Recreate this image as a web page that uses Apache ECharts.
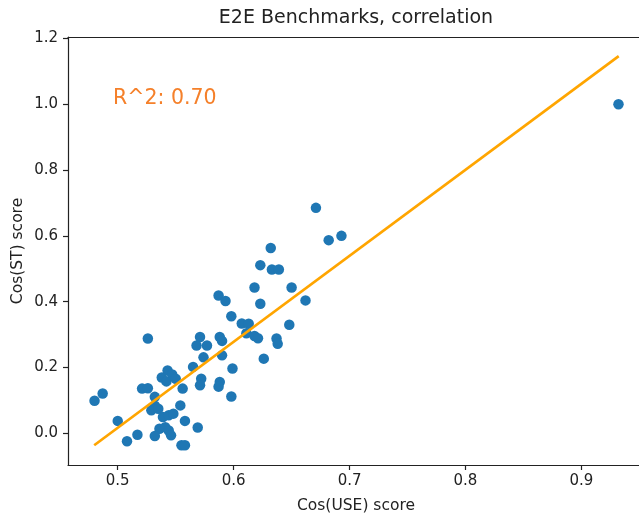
<!DOCTYPE html>
<html>
<head>
<meta charset="utf-8">
<script src="https://cdn.jsdelivr.net/npm/echarts@6/dist/echarts.min.js"></script>
<style>
html,body{margin:0;padding:0;background:#fff;}
#chart{width:639px;height:514px;}
</style>
</head>
<body>
<div id="chart"></div>
<script>
// Data
const useScores = [0.480,0.487,0.500,0.508,0.517,0.526,0.521,0.526,0.532,0.538,0.543,0.547,0.542,0.550,
  0.532,0.529,0.535,0.539,0.544,0.548,0.554,0.558,0.536,0.541,0.544,0.532,0.546,0.569,0.555,0.558,
  0.556,0.565,0.574,0.571,0.568,0.577,0.572,0.571,0.588,0.590,0.590,0.588,0.587,0.598,0.599,0.587,
  0.593,0.598,0.607,0.613,0.611,0.618,0.621,0.626,0.637,0.638,0.648,0.618,0.623,0.623,0.632,0.633,
  0.639,0.650,0.662,0.671,0.682,0.693,0.932];
const stScores = [0.099,0.121,0.038,-0.024,-0.004,0.288,0.136,0.137,0.111,0.170,0.191,0.179,0.158,0.166,
  0.084,0.070,0.075,0.050,0.055,0.060,0.085,0.038,0.014,0.019,0.009,-0.008,-0.006,0.018,-0.036,-0.036,
  0.136,0.202,0.231,0.293,0.267,0.267,0.166,0.146,0.293,0.281,0.237,0.156,0.142,0.112,0.197,0.419,
  0.402,0.356,0.334,0.333,0.304,0.296,0.289,0.227,0.288,0.272,0.330,0.443,0.394,0.511,0.563,0.498,
  0.498,0.443,0.404,0.685,0.587,0.600,1.000];
const fitX = [0.4797, 0.9322];
const fitY = [-0.036, 1.146];
const xTicks = [0.5, 0.6, 0.7, 0.8, 0.9];
const yTicks = [0.0, 0.2, 0.4, 0.6, 0.8, 1.0, 1.2];
const titleText = 'E2E Benchmarks, correlation';
const xName = 'Cos(USE) score';
const yName = 'Cos(ST) score';
const annotation = 'R^2: 0.70';

const FONT = 'DejaVu Sans';
const chart = echarts.init(document.getElementById('chart'), null, {renderer: 'canvas'});
const pts = useScores.map((x, i) => [x, stScores[i]]);
const fit = fitX.map((x, i) => [x, fitY[i]]);
const axisLineStyle = {color: '#222', width: 1.2};
const X_MIN = 0.4571, X_MAX = 0.9497;

chart.setOption({
  animation: false,
  backgroundColor: '#fff',
  grid: {left: 68, top: 37, right: 0, height: 428, containLabel: false},
  xAxis: [{
    type: 'value', position: 'bottom', min: X_MIN, max: X_MAX,
    axisLine: {show: true, onZero: false, lineStyle: axisLineStyle},
    axisTick: {show: true, length: 5, lineStyle: axisLineStyle, customValues: xTicks},
    axisLabel: {customValues: xTicks, margin: 9, color: '#222', fontFamily: FONT, fontSize: 15,
      formatter: v => v.toFixed(1)},
    splitLine: {show: false}
  }, {
    type: 'value', position: 'top', min: X_MIN, max: X_MAX,
    axisLine: {show: true, onZero: false, lineStyle: axisLineStyle},
    axisTick: {show: false}, axisLabel: {show: false}, splitLine: {show: false}
  }],
  yAxis: {
    type: 'value', min: -0.096, max: 1.204,
    axisLine: {show: true, onZero: false, lineStyle: axisLineStyle},
    axisTick: {show: true, length: 5, lineStyle: axisLineStyle, customValues: yTicks},
    axisLabel: {customValues: yTicks, margin: 10, color: '#222', fontFamily: FONT, fontSize: 15,
      formatter: v => v.toFixed(1)},
    splitLine: {show: false}
  },
  series: [{
    type: 'scatter', data: pts, symbol: 'circle', symbolSize: 10.5,
    itemStyle: {color: '#1f77b4', opacity: 1}, z: 2
  }, {
    type: 'line', data: fit, symbol: 'none', lineStyle: {color: '#ffa500', width: 2.7}, z: 3
  }],
  graphic: [{
    type: 'text', x: 356, y: 18,
    style: {text: titleText, font: '19px "DejaVu Sans"', fill: '#222', align: 'center', verticalAlign: 'middle'}
  }, {
    type: 'text', x: 356, y: 506,
    style: {text: xName, font: '15.5px "DejaVu Sans"', fill: '#222', align: 'center', verticalAlign: 'middle'}
  }, {
    type: 'text', x: 18, y: 251, rotation: Math.PI / 2,
    style: {text: yName, font: '15.5px "DejaVu Sans"', fill: '#222', align: 'center', verticalAlign: 'middle'}
  }, {
    type: 'text', x: 113, y: 99,
    style: {text: annotation, font: '20.5px "DejaVu Sans"', fill: '#f5802a', align: 'left', verticalAlign: 'middle'}
  }]
});
</script>
</body>
</html>
